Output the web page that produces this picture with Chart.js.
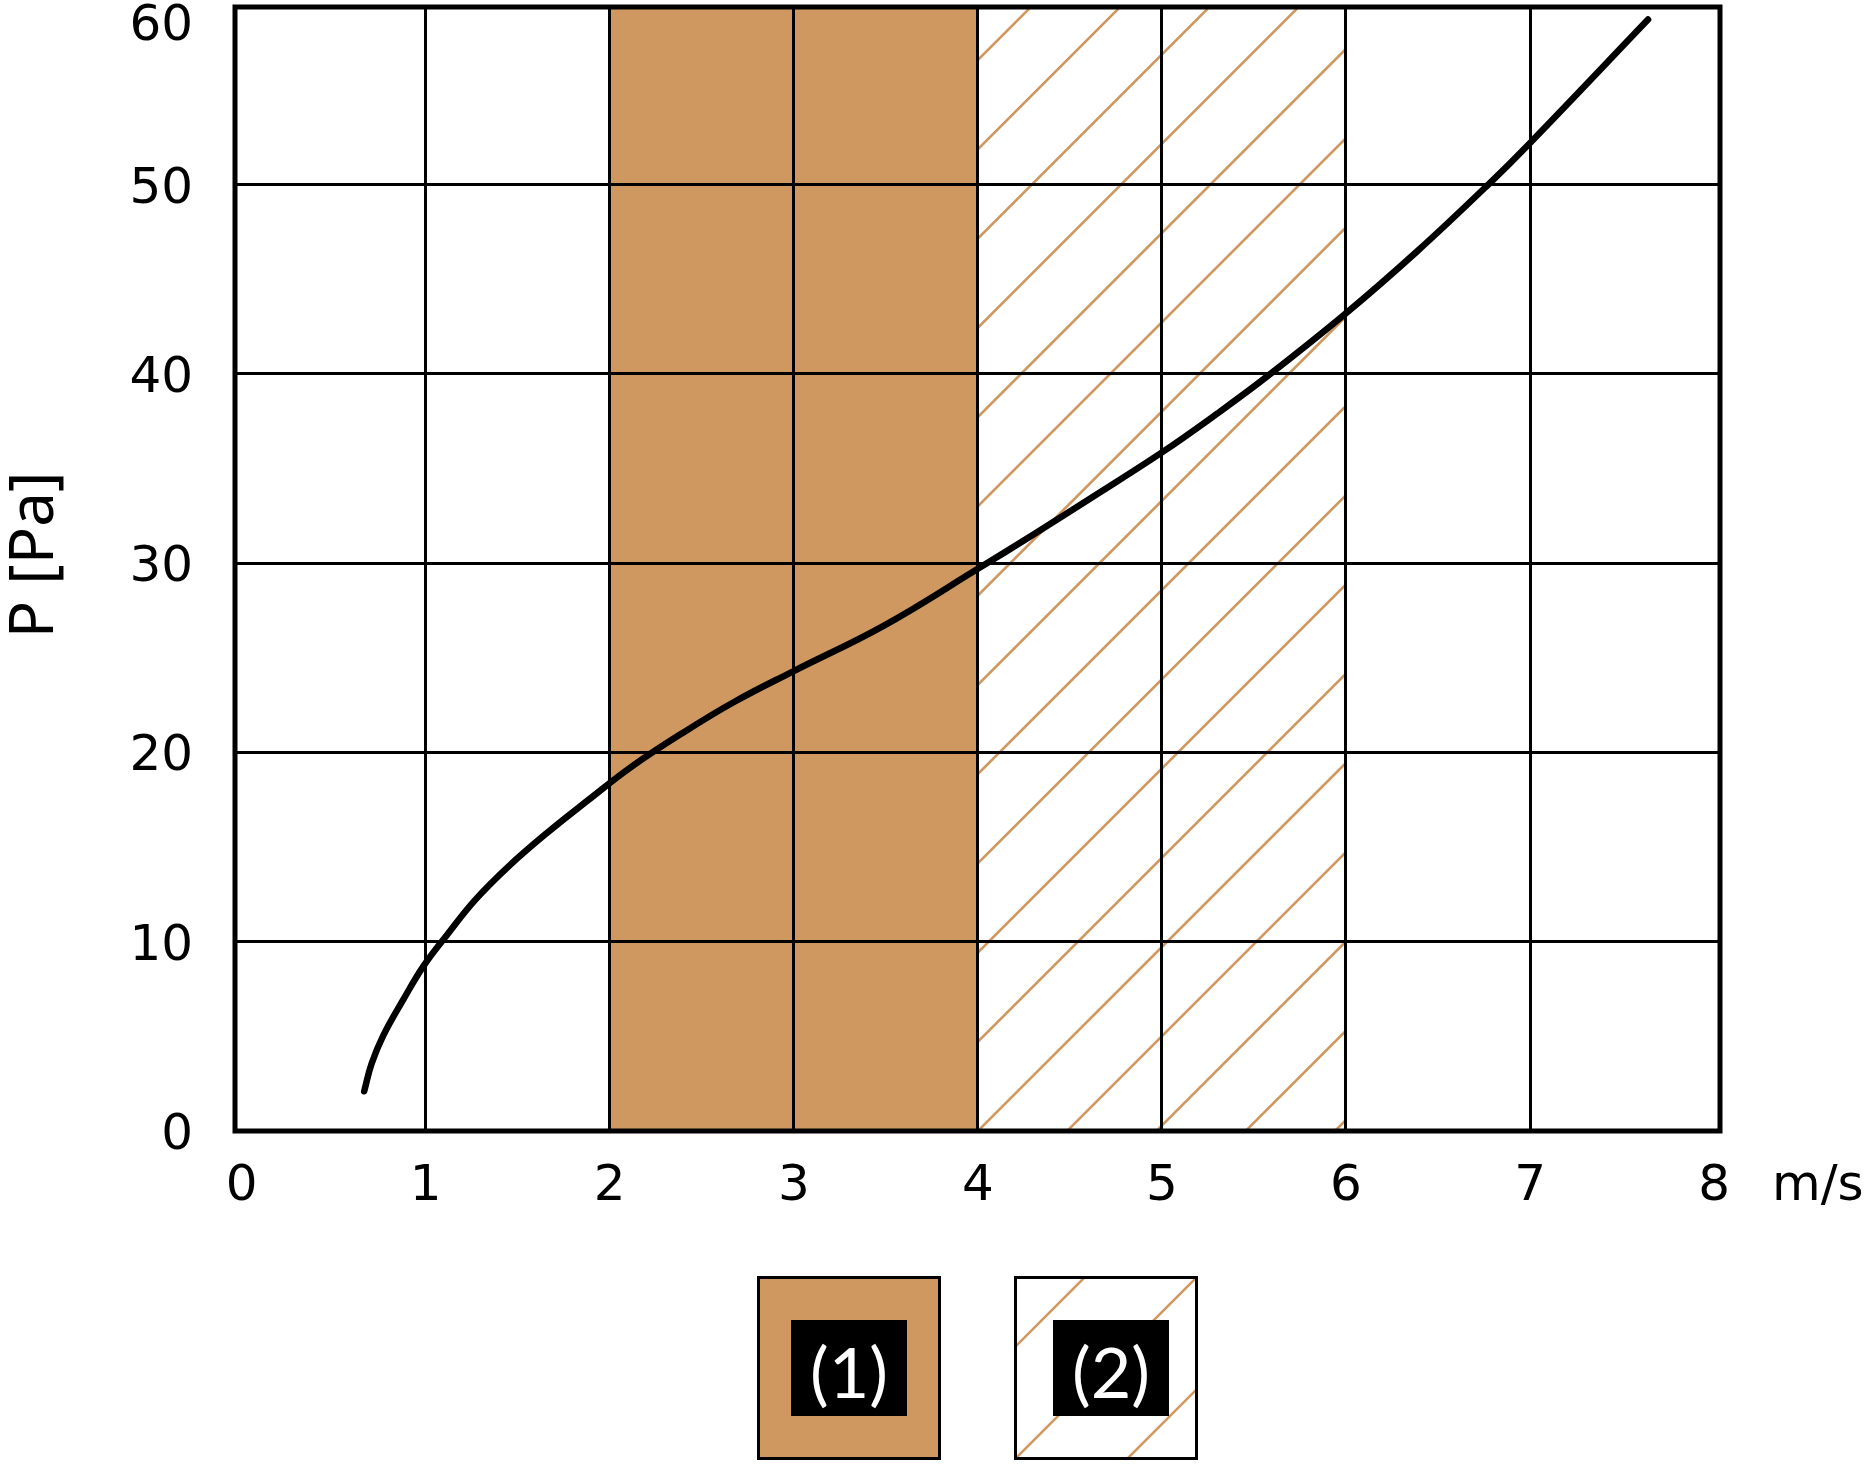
<!DOCTYPE html>
<html><head><meta charset="utf-8">
<script src="https://cdn.jsdelivr.net/npm/chart.js@4.4.0/dist/chart.umd.min.js"></script>
<style>html,body{margin:0;padding:0;background:#fff;}canvas{display:block;}</style>
</head><body>
<canvas id="c" width="1870" height="1465"></canvas>
<script>
// ---- data ----
const velocity = [0.666, 0.706, 0.77, 0.879, 0.987, 1.123, 1.268, 1.449, 1.657, 1.884, 2.119, 2.391, 2.68, 3.0, 3.49, 4.0, 4.3, 4.6, 5.0, 5.3, 5.57, 6.0, 6.384, 6.773, 7.0, 7.641];
const pressure = [2.1, 3.55, 5.05, 6.95, 8.7, 10.45, 12.2, 13.97, 15.73, 17.49, 19.25, 21.0, 22.69, 24.3, 26.7, 29.7, 31.5, 33.35, 35.85, 37.9, 39.85, 43.2, 46.45, 50.0, 52.2, 58.72];
const xTickLabels = ['0','1','2','3','4','5','6','7','8'];
const yTickLabels = ['0','10','20','30','40','50','60'];
const xUnit = 'm/s';
const yTitle = 'P [Pa]';
const zoneSolid = [2, 4];
const zoneHatched = [4, 6];
const legendLabels = ['(1)', '(2)'];

const BROWN = '#CF9860';
const TICK_FONT = '50px "DejaVu Sans", sans-serif';
const X_MIN = -0.036, X_MAX = 8.032, Y_MIN = 0, Y_MAX = 59.38;

function hatch(ctx, left, top, w, h, step, lw) {
  ctx.save();
  ctx.beginPath(); ctx.rect(left, top, w, h); ctx.clip();
  ctx.strokeStyle = BROWN; ctx.lineWidth = lw;
  const c0 = left + top + h;
  ctx.beginPath();
  const kMin = -Math.ceil(h / step) - 1, kMax = Math.ceil(w / step) + 1;
  for (let k = kMin; k <= kMax; k++) {
    const c = c0 + k * step;
    ctx.moveTo(c - (top + h + 10), top + h + 10);
    ctx.lineTo(c - (top - 10), top - 10);
  }
  ctx.stroke();
  ctx.restore();
}

const decor = {
  id: 'decor',
  beforeDraw(chart) {
    const {ctx, chartArea: a, scales: {x}} = chart;
    ctx.save();
    ctx.fillStyle = '#fff';
    ctx.fillRect(0, 0, chart.width, chart.height);
    const s0 = x.getPixelForValue(zoneSolid[0]), s1 = x.getPixelForValue(zoneSolid[1]);
    ctx.fillStyle = BROWN;
    ctx.fillRect(s0, a.top, s1 - s0, a.bottom - a.top);
    const h0 = x.getPixelForValue(zoneHatched[0]), h1 = x.getPixelForValue(zoneHatched[1]);
    hatch(ctx, h0, a.top, h1 - h0, a.bottom - a.top, 89.25, 2.6);
    ctx.restore();
  },
  beforeDatasetsDraw(chart) {
    const {ctx, chartArea: a} = chart;
    ctx.save();
    ctx.strokeStyle = '#000'; ctx.lineWidth = 5;
    ctx.strokeRect(a.left, a.top, a.right - a.left, a.bottom - a.top);
    ctx.restore();
  },
  afterDraw(chart) {
    const {ctx, chartArea: a, scales: {x, y}} = chart;
    ctx.save();
    ctx.fillStyle = '#000';
    ctx.font = TICK_FONT;
    ctx.textAlign = 'center'; ctx.textBaseline = 'alphabetic';
    xTickLabels.forEach(t => {
      ctx.fillText(t, x.getPixelForValue(Number(t)), a.bottom + 69);
    });
    ctx.textAlign = 'left';
    ctx.fillText(xUnit, a.right + 52, a.bottom + 69);
    ctx.textAlign = 'right';
    yTickLabels.forEach(t => {
      const py = Math.max(y.getPixelForValue(Number(t)), a.top);
      ctx.fillText(t, a.left - 42, Math.max(py + 18, a.top + 33));
    });
    ctx.save();
    ctx.font = '62px "Noto Sans", sans-serif';
    ctx.translate(a.left - 182, 555);
    ctx.rotate(-Math.PI / 2);
    ctx.textAlign = 'center'; ctx.textBaseline = 'alphabetic';
    ctx.fillText(yTitle, 0, 0);
    ctx.restore();
    // legend
    const cx = (a.left + a.right) / 2;
    const size = 181, boxTop = a.bottom + 146.5;
    const centers = [cx - 128.5, cx + 128.5];
    const innerShift = [0, 5];
    legendLabels.forEach((lab, i) => {
      const bx = centers[i] - size / 2;
      if (i === 0) {
        ctx.fillStyle = BROWN;
        ctx.fillRect(bx, boxTop, size, size);
      } else {
        ctx.fillStyle = '#fff';
        ctx.fillRect(bx, boxTop, size, size);
        hatch(ctx, bx - 1.5, boxTop - 1.5, size + 3, size + 3, 112, 2.6);
      }
      const ic = centers[i] + innerShift[i];
      ctx.fillStyle = '#000';
      ctx.fillRect(ic - 58, boxTop + size / 2 - 48, 116, 96);
      ctx.strokeStyle = '#000'; ctx.lineWidth = 3;
      ctx.strokeRect(bx, boxTop, size, size);
      ctx.fillStyle = '#fff';
      ctx.font = '400 70px Lato, "Noto Sans", sans-serif';
      ctx.textAlign = 'center'; ctx.textBaseline = 'alphabetic';
      ctx.fillText(lab, ic, boxTop + size / 2 + 29.5);
    });
    ctx.restore();
  }
};

const hideEdge = (edges) => (c) => (c.tick && edges.includes(c.tick.value)) ? 'rgba(0,0,0,0)' : '#000';

new Chart(document.getElementById('c'), {
  type: 'line',
  data: {
    datasets: [{
      data: velocity.map((v, i) => ({x: v, y: pressure[i]})),
      borderColor: '#000',
      borderWidth: 6.5,
      pointRadius: 0,
      pointHoverRadius: 0,
      tension: 0.4,
      borderCapStyle: 'round',
      borderJoinStyle: 'round',
      fill: false,
      clip: false
    }]
  },
  options: {
    responsive: false,
    animation: false,
    devicePixelRatio: 1,
    events: [],
    layout: {padding: {left: 235, top: 7, right: 150, bottom: 334}},
    plugins: {legend: {display: false}, tooltip: {enabled: false}},
    scales: {
      x: {
        type: 'linear', min: X_MIN, max: X_MAX,
        afterBuildTicks: s => { s.ticks = xTickLabels.map(v => ({value: Number(v)})); },
        ticks: {display: false},
        grid: {color: hideEdge([0, 8]), lineWidth: 3, drawTicks: false},
        border: {display: false}
      },
      y: {
        type: 'linear', min: Y_MIN, max: Y_MAX,
        afterBuildTicks: s => { s.ticks = yTickLabels.map(Number).filter(v => v <= Y_MAX).map(v => ({value: v})); },
        ticks: {display: false},
        grid: {color: hideEdge([0]), lineWidth: 3, drawTicks: false},
        border: {display: false}
      }
    }
  },
  plugins: [decor]
});
</script>
</body></html>
